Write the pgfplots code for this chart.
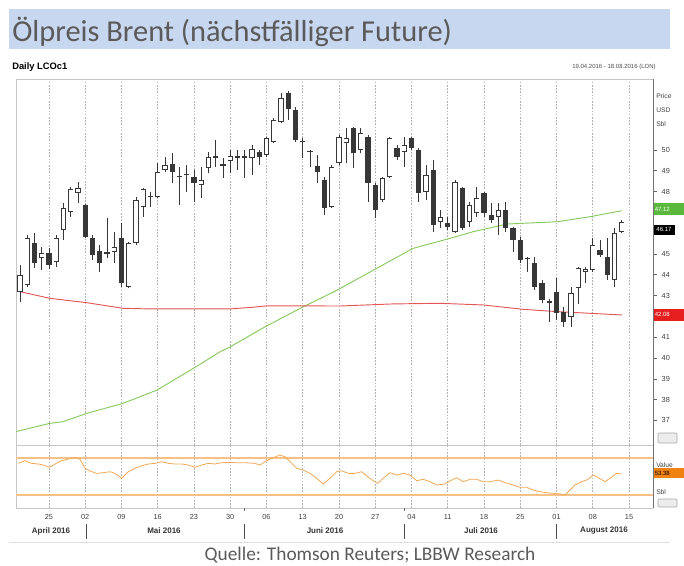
\documentclass[border=0pt]{standalone}
\usepackage{pgfplots}
\pgfplotsset{compat=1.18}
\usepackage{pgfplotstable}
\usepackage{fontspec}
\setmainfont{Liberation Sans}
\newfontfamily\titlefont{Carlito}
\definecolor{titlebg}{RGB}{200,215,240}
\definecolor{titlefg}{RGB}{90,90,90}
\definecolor{magreen}{RGB}{135,200,95}
\definecolor{boxgreen}{RGB}{90,185,60}
\definecolor{mared}{RGB}{228,85,85}
\definecolor{boxred}{RGB}{230,30,30}
\definecolor{osc}{RGB}{240,168,85}
\definecolor{band}{RGB}{246,192,135}
\definecolor{boxorange}{RGB}{240,130,20}
\definecolor{candle}{RGB}{55,55,55}

\pgfplotstableread{
i o h l c
0 43.19 44.47 42.71 43.99
1 43.51 45.91 43.43 45.78
2 45.51 46.00 44.31 44.55
3 44.79 45.35 44.23 45.06
4 45.06 45.27 44.26 44.47
5 44.63 45.91 44.39 45.75
6 46.15 47.44 45.67 47.20
7 47.03 48.24 46.79 48.11
8 47.92 48.48 47.44 48.16
9 47.36 47.39 45.75 45.83
10 45.75 45.91 44.71 44.95
11 45.16 45.43 44.15 44.58
12 45.10 46.72 44.79 45.02
13 45.11 46.07 44.55 45.35
14 45.75 46.48 43.43 43.59
15 43.43 45.59 43.35 45.51
16 45.51 47.76 45.43 47.60
17 47.28 48.16 46.79 48.11
18 47.80 48.00 47.28 47.72
19 47.76 49.36 47.68 48.96
20 49.04 49.68 48.96 49.28
21 49.31 49.84 48.40 48.96
22 48.76 49.20 47.36 48.68
23 48.78 49.28 48.00 48.84
24 48.69 49.04 47.52 48.40
25 48.32 49.20 47.68 48.56
26 49.12 49.92 48.88 49.68
27 49.70 50.48 49.20 49.60
28 49.31 49.60 48.64 49.22
29 49.49 50.00 48.88 49.71
30 49.68 50.00 49.04 49.62
31 49.70 50.00 48.64 49.62
32 49.60 50.24 48.80 50.03
33 49.92 50.00 49.28 49.68
34 49.76 50.64 49.65 50.56
35 50.40 51.52 50.32 51.44
36 51.36 52.76 51.28 52.48
37 52.73 52.85 51.44 51.96
38 51.92 52.08 50.40 50.48
39 50.44 50.56 49.60 50.36
40 49.96 50.00 49.20 49.88
41 49.23 49.76 48.40 48.96
42 48.56 48.72 46.88 47.20
43 47.28 49.28 47.20 49.20
44 49.36 50.72 49.28 50.64
45 50.32 51.04 49.36 50.56
46 51.04 51.12 49.12 49.84
47 50.00 51.04 49.84 50.80
48 50.64 50.72 47.52 48.40
49 48.32 48.40 46.72 47.12
50 47.60 48.72 47.52 48.64
51 48.72 50.64 48.64 50.56
52 50.08 50.24 49.52 49.68
53 49.92 50.64 49.20 50.24
54 50.56 50.64 50.00 50.08
55 50.00 50.08 47.52 47.92
56 48.00 49.28 47.60 48.80
57 49.04 49.52 46.07 46.39
58 46.55 47.12 46.24 46.79
59 46.48 46.79 46.15 46.31
60 46.07 48.56 46.00 48.48
61 48.16 48.24 46.15 46.24
62 46.55 47.52 46.31 47.36
63 46.96 48.24 46.79 47.68
64 47.92 48.00 46.79 46.96
65 46.88 47.44 46.48 46.63
66 46.79 47.44 45.91 47.12
67 47.12 47.52 46.07 46.24
68 46.24 46.31 45.11 45.67
69 45.67 45.83 44.55 44.71
70 44.83 44.87 44.15 44.75
71 44.55 44.87 43.27 43.43
72 43.59 43.75 42.63 42.79
73 42.75 42.85 41.75 42.65
74 43.19 43.83 41.83 42.15
75 42.23 42.47 41.51 41.75
76 41.99 43.43 41.51 43.11
77 43.35 44.39 42.60 44.31
78 44.15 44.39 43.59 44.28
79 44.23 45.75 44.15 45.43
80 45.19 45.67 44.87 44.95
81 44.87 45.75 43.75 43.99
82 43.75 46.24 43.43 46.00
83 46.07 46.63 46.00 46.55
}\candles

\begin{document}
\begin{tikzpicture}[x=0.75pt,y=-0.75pt]
\useasboundingbox (0,0) rectangle (684,566);
\fill[titlebg] (9,9) rectangle (670,49);
\node[anchor=base west, text=titlefg, font=\titlefont\fontsize{22.8}{26}\selectfont, inner sep=0] at (12,42) {Ölpreis Brent (nächstfälliger Future)};
\node[anchor=base west, font=\bfseries\fontsize{7}{8}\selectfont, inner sep=0] at (12,70) {Daily LCOc1};
\node[anchor=base west, font=\fontsize{4.5}{5}\selectfont, text=black!70, inner sep=0] at (572,69) {19.04.2016 - 18.08.2016 (LON)};

\begin{axis}[at={(12pt,-333.75pt)}, anchor=south west, scale only axis,
  width=477.75pt, height=274.5pt,
  xmin=-0.55, xmax=87.31, ymin=35.82, ymax=53.41, clip=false,
  axis line style={gray!45},
  xtick={4,9,...,84}, xticklabels={}, xtick style={draw=none},
  xmajorgrids, grid style={gray!60, dash pattern=on 1.2pt off 1.2pt, line width=0.4pt},
  ytick={37,38,39,40,41,43,44,45,48,49,50}, yticklabel pos=right, ytick pos=right,
  tick align=outside, major tick length=3pt, ytick style={black!60, line width=0.5pt},
  tick label style={font=\fontsize{5.5}{6}\selectfont, text=black!75},
  /pgf/number format/assume math mode=true]
\addplot[magreen, line width=0.7pt] coordinates {(-0.5,36.47) (4.1,36.86) (5.9,36.94) (9.2,37.34) (14.2,37.82) (18.9,38.46) (23.9,39.50) (27.6,40.30) (29,40.54) (33.8,41.50) (39,42.45) (43.4,43.20) (49.2,44.31) (54.2,45.27) (59.3,45.75) (62.5,46.07) (67.2,46.44) (74.1,46.55) (78.6,46.79) (83,47.08)};
\addplot[mared, line width=0.7pt] coordinates {(-0.3,43.22) (0,43.19) (4.1,42.87) (9.2,42.66) (14.2,42.39) (17.9,42.36) (29,42.36) (32.1,42.44) (34.1,42.51) (44.1,42.50) (51.4,42.60) (57.9,42.63) (63.9,42.55) (69.4,42.34) (74.1,42.23) (78.6,42.15) (83,42.07)};
% wicks
\addplot[draw=none, mark=none, error bars/.cd, y dir=plus, y explicit, error mark=none,
  error bar style={draw=candle, line width=0.6pt}]
  table[x=i, y=l, y error plus expr={\thisrow{h}-\thisrow{l}}] {\candles};
% bodies
\addplot[draw=none, mark=none, error bars/.cd, y dir=plus, y explicit, error mark=none,
  error bar style={draw=candle, line width=4pt}]
  table[x=i, y expr={min(\thisrow{o},\thisrow{c})}, y error plus expr={max(abs(\thisrow{c}-\thisrow{o}),0.07)}] {\candles};
\addplot[draw=none, mark=none, error bars/.cd, y dir=plus, y explicit, error mark=none,
  error bar style={draw=white, line width=2.7pt}]
  table[x=i, y expr={\thisrow{o}+0.045}, y error plus expr={(\thisrow{c}>\thisrow{o})*max(\thisrow{c}-\thisrow{o}-0.09,0)}] {\candles};
\node[anchor=west, fill=boxgreen, text=white, font=\fontsize{4.5}{5}\selectfont, minimum width=23.25pt, minimum height=9pt, inner sep=1pt, text width=21pt] at (axis cs:87.31,47.16) {47.12};
\node[anchor=west, fill=black, text=white, font=\fontsize{4.5}{5}\selectfont, minimum width=16pt, minimum height=7.5pt, inner sep=1pt] at (axis cs:87.31,46.17) {46.17};
\node[anchor=west, fill=boxred, text=white, font=\fontsize{4.5}{5}\selectfont, minimum width=23.25pt, minimum height=9pt, inner sep=1pt, text width=21pt] at (axis cs:87.31,42.08) {42.08};
\end{axis}

\begin{axis}[at={(12pt,-381pt)}, anchor=south west, scale only axis,
  width=477.75pt, height=47.25pt,
  xmin=-0.55, xmax=87.31, ymin=15.83, ymax=84.5, clip=false,
  axis line style={gray!45},
  xtick={4,9,...,84},
  xticklabels={25,02,09,16,23,30,06,13,20,27,04,11,18,25,01,08,15},
  xtick style={draw=none},
  xmajorgrids, grid style={gray!60, dash pattern=on 1.2pt off 1.2pt, line width=0.4pt},
  ytick=\empty,
  tick label style={font=\fontsize{5.5}{6}\selectfont, text=black!75},
  xticklabel style={yshift=-1.5pt},
  /pgf/number format/assume math mode=true]
\addplot[band, line width=1.4pt] coordinates {(-0.55,70) (87.31,70)};
\addplot[band, line width=1.4pt] coordinates {(-0.55,30) (87.31,30)};
\addplot[osc, line width=0.6pt] coordinates {(-0.23,64.5) (0.69,67.4) (1.61,64.5) (2.52,63.8) (3.21,62.7) (4.04,60.2) (4.83,63.8) (5.75,67.4) (6.66,69.2) (7.59,71.1) (8.28,68.9) (8.97,59.1) (9.66,56.2) (10.58,53.6) (11.49,54.3) (12.41,55.4) (13.10,53.6) (14.03,48.2) (14.94,55.4) (15.86,59.1) (16.79,61.9) (17.70,63.8) (18.62,64.5) (19.54,66.3) (20.46,64.5) (21.38,63.8) (22.30,63.8) (23.21,62.7) (24.14,60.2) (25.06,62.7) (25.97,64.5) (26.90,63.8) (27.82,65.2) (28.97,65.6) (29.66,65.2) (31.03,65.2) (32.41,64.5) (33.10,62.7) (33.79,66.3) (34.72,70.0) (35.86,73.6) (36.55,71.7) (37.48,64.5) (38.17,59.1) (39.08,57.2) (40.00,53.6) (40.92,48.2) (41.83,42.0) (42.76,48.2) (43.68,55.4) (44.37,56.5) (45.28,53.6) (46.21,53.6) (47.13,55.4) (47.82,50.7) (48.73,45.6) (49.34,42.8) (50.11,48.2) (51.03,54.3) (51.96,51.8) (52.87,53.6) (53.79,51.8) (54.72,45.6) (55.63,47.1) (56.55,44.5) (57.48,40.9) (58.62,42.0) (59.31,45.4) (60.23,48.8) (61.14,44.5) (62.07,47.1) (62.99,47.1) (63.90,44.5) (64.83,44.5) (65.97,46.3) (66.90,43.4) (68.04,40.9) (68.97,38.4) (69.89,38.4) (70.80,35.4) (71.72,33.6) (72.65,32.5) (73.56,31.8) (74.48,31.1) (75.17,30.0) (75.86,35.4) (76.55,40.9) (77.48,44.5) (78.17,46.3) (79.08,51.8) (79.90,48.2) (80.69,44.5) (81.38,48.2) (82.30,53.6) (82.99,52.9)};
\node[anchor=west, fill=boxorange, text=black, font=\fontsize{4.5}{5}\selectfont, minimum width=23.25pt, minimum height=7.5pt, inner sep=1pt, text width=21pt] at (axis cs:87.31,53.6) {53.38};
\end{axis}

% right-hand annotations
\draw[black!55, line width=0.5pt] (653,79) -- (653,508);
\node[anchor=base west, font=\fontsize{5}{6}\selectfont, text=black!75, inner sep=0] at (656,99) {Price};
\node[anchor=base west, font=\fontsize{5}{6}\selectfont, text=black!75, inner sep=0] at (656,113) {USD};
\node[anchor=base west, font=\fontsize{5}{6}\selectfont, text=black!75, inner sep=0] at (656,127) {Sbl};
\node[anchor=base west, font=\fontsize{5}{6}\selectfont, text=black!75, inner sep=0] at (656,467) {Value};
\node[anchor=base west, font=\fontsize{5}{6}\selectfont, text=black!75, inner sep=0] at (656,494) {Sbl};
\draw[gray!70, fill=gray!15, rounded corners=0.5pt] (658,433) rectangle (677,443);
\draw[gray!70, fill=gray!15, rounded corners=0.5pt] (658,499) rectangle (677,507);
% month labels
\begin{scope}[font=\bfseries\fontsize{6}{7}\selectfont, text=black!80]
\node at (51,531) {April 2016};
\node at (164,531) {Mai 2016};
\node at (325,531) {Juni 2016};
\node at (481,531) {Juli 2016};
\node at (604,531) {August 2016};
\end{scope}
\foreach \xx in {86.25,244.75,404.25,556.5} \draw[black!70, line width=0.5pt] (\xx,524) -- (\xx,539);
\foreach \xx in {244.75,404.25} \draw[black!60, line width=0.5pt] (\xx,508) -- (\xx,511);
\draw[gray!25, line width=0.6pt] (9,542) -- (670,542);
\node[text=titlefg, font=\titlefont\fontsize{14.5}{16}\selectfont] at (370,555) {Quelle: Thomson Reuters; LBBW Research};
\end{tikzpicture}
\end{document}
